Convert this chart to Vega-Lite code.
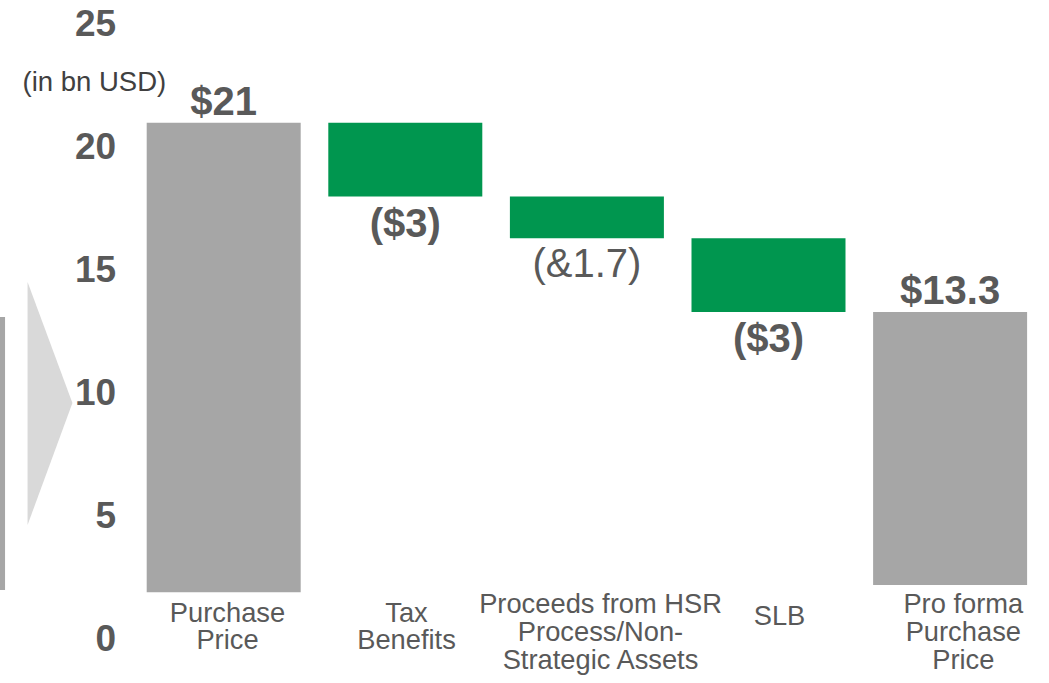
{
  "$schema": "https://vega.github.io/schema/vega-lite/v6.json",
  "width": 880.4,
  "height": 614.5,
  "autosize": "none",
  "padding": {"left": 146.7, "top": 24.5, "right": 21.9, "bottom": 43.5},
  "background": "#ffffff",
  "config": {"view": {"stroke": null}, "font": "Liberation Sans"},
  "datasets": {
    "steps": [
      {"step": "Purchase\nPrice", "kind": "total", "start": 1.9, "end": 21.0, "label": "$21"},
      {"step": "Tax\nBenefits", "kind": "decrease", "start": 18.0, "end": 21.0, "label": "($3)"},
      {"step": "Proceeds from HSR\nProcess/Non-\nStrategic Assets", "kind": "decrease", "start": 16.3, "end": 18.0, "label": "(&1.7)"},
      {"step": "SLB", "kind": "decrease", "start": 13.3, "end": 16.3, "label": "($3)"},
      {"step": "Pro forma\nPurchase\nPrice", "kind": "total", "start": 2.2, "end": 13.3, "label": "$13.3"}
    ],
    "previousBar": [{"x0": -1.232, "x1": -1.204, "top": 13.1, "bottom": 1.99}],
    "arrow": [
      {"pos": -1.08, "top": 14.52, "bottom": 4.64},
      {"pos": -0.833, "top": 9.6, "bottom": 9.6}
    ]
  },
  "layer": [
    {
      "data": {"name": "steps"},
      "encoding": {
        "x": {
          "field": "step",
          "type": "nominal",
          "sort": null,
          "scale": {
            "domain": ["Purchase\nPrice", "Tax\nBenefits", "Proceeds from HSR\nProcess/Non-\nStrategic Assets", "SLB", "Pro forma\nPurchase\nPrice"],
            "paddingInner": 0.152,
            "paddingOuter": 0
          },
          "axis": {
            "title": null,
            "ticks": false,
            "tickSize": 0,
            "domain": false,
            "grid": false,
            "labelAngle": 0,
            "labelFont": "Liberation Sans",
            "labelFontSize": 27.3,
            "labelColor": "#595959",
            "labelBaseline": "top",
            "labelPadding": {
              "condition": [
                {"test": "datum.value == 'SLB'", "value": -36.3},
                {"test": "indexof(datum.value, 'Pro') == 0", "value": -48.3}
              ],
              "value": -40
            },
            "labelOffset": {
              "condition": [
                {"test": "datum.value == 'SLB'", "value": 11},
                {"test": "indexof(datum.value, 'Proceeds') == 0", "value": 13.6},
                {"test": "indexof(datum.value, 'Pro forma') == 0", "value": 13.2},
                {"test": "indexof(datum.value, 'Purchase') == 0", "value": 3.8}
              ],
              "value": 1.2
            },
            "labelLineHeight": 27.8,
            "labelLimit": 0,
            "labelOverlap": false,
            "labelExpr": "split(datum.value, '\\n')"
          }
        }
      },
      "layer": [
        {
          "mark": {"type": "bar"},
          "encoding": {
            "y": {
              "field": "end",
              "type": "quantitative",
              "scale": {"domain": [0, 25], "nice": false, "zero": false},
              "axis": {
                "title": "(in bn USD)",
                "titleAngle": 0,
                "titleAlign": "left",
                "titleBaseline": "alphabetic",
                "titleX": -124.7,
                "titleY": 65.5,
                "titleFont": "Liberation Sans",
                "titleFontSize": 27.5,
                "titleFontWeight": "normal",
                "titleColor": "#404040",
                "values": [0, 5, 10, 15, 20, 25],
                "grid": false,
                "ticks": false,
                "domain": false,
                "labelFont": "Liberation Sans",
                "labelFontSize": 37,
                "labelFontWeight": "bold",
                "labelColor": "#595959",
                "labelPadding": 31,
                "labelFlush": false,
                "labelOverlap": false,
                "labelBound": false
              }
            },
            "y2": {"field": "start"},
            "color": {
              "field": "kind",
              "type": "nominal",
              "scale": {"domain": ["total", "decrease"], "range": ["#A6A6A6", "#00964F"]},
              "legend": null
            }
          }
        },
        {
          "transform": [{"filter": "datum.kind == 'total'"}],
          "mark": {"type": "text", "baseline": "alphabetic", "align": "center", "dy": -8, "fontSize": 40, "fontWeight": "bold", "color": "#595959"},
          "encoding": {
            "y": {"field": "end", "type": "quantitative", "axis": null},
            "text": {"field": "label"}
          }
        },
        {
          "transform": [{"filter": "datum.kind == 'decrease' && datum.label != '(&1.7)'"}],
          "mark": {"type": "text", "baseline": "alphabetic", "align": "center", "dy": 40, "fontSize": 40, "fontWeight": "bold", "color": "#595959"},
          "encoding": {
            "y": {"field": "start", "type": "quantitative", "axis": null},
            "text": {"field": "label"}
          }
        },
        {
          "transform": [{"filter": "datum.label == '(&1.7)'"}],
          "mark": {"type": "text", "baseline": "alphabetic", "align": "center", "dy": 39, "fontSize": 40, "fontWeight": "normal", "color": "#595959"},
          "encoding": {
            "y": {"field": "start", "type": "quantitative", "axis": null},
            "text": {"field": "label"}
          }
        }
      ],
      "resolve": {"axis": {"y": "independent"}}
    },
    {
      "data": {"name": "previousBar"},
      "mark": {"type": "rect", "color": "#A6A6A6"},
      "encoding": {
        "x": {"field": "x0", "type": "quantitative", "scale": {"domain": [-0.424, 4.424], "nice": false, "zero": false}, "axis": null},
        "x2": {"field": "x1"},
        "y": {"field": "top", "type": "quantitative", "axis": null},
        "y2": {"field": "bottom"}
      }
    },
    {
      "data": {"name": "arrow"},
      "mark": {"type": "area", "color": "#D9D9D9"},
      "encoding": {
        "x": {"field": "pos", "type": "quantitative", "scale": {"domain": [-0.424, 4.424], "nice": false, "zero": false}, "axis": null},
        "y": {"field": "top", "type": "quantitative", "axis": null},
        "y2": {"field": "bottom"}
      }
    }
  ],
  "resolve": {"scale": {"x": "independent"}, "axis": {"x": "independent", "y": "independent"}}
}
